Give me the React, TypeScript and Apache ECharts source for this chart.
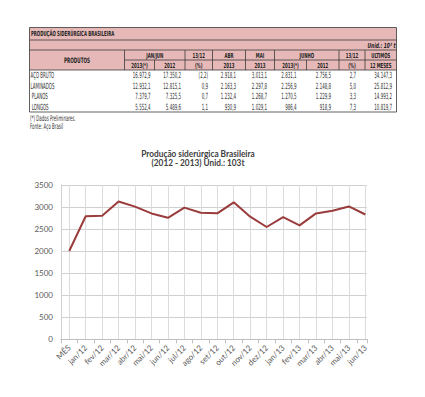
import React, { useEffect, useRef } from "react";
import * as echarts from "echarts";

// ---- chart data ----
const months = ["MÊS", "jan/12", "fev/12", "mar/12", "abr/12", "mai/12", "jun/12", "jul/12", "ago/12", "set/12", "out/12", "nov/12", "dez/12", "jan/13", "fev/13", "mar/13", "abr/13", "mai/13", "jun/13"];
const production = [2003, 2790, 2800, 3125, 3010, 2855, 2756, 2986, 2872, 2858, 3107, 2781, 2547, 2770, 2585, 2856, 2918, 3013, 2831];
const yMin = 0;
const yMax = 3500;
const yStep = 500;
const chartTitle = ["Produção siderúrgica Brasileira", "(2012 - 2013) Unid.: 103t"];

// ---- table data ----
const tableTitle = "PRODUÇÃO SIDERÚRGICA BRASILEIRA";
const tableUnit = "Unid.: 10³ t";
const products = ["AÇO BRUTO", "LAMINADOS", " PLANOS", " LONGOS"];
const janJun2013 = [16972.9, 12932.1, 7379.7, 5552.4];
const janJun2012 = [17350.2, 12815.1, 7325.5, 5489.6];
const varJanJun = [-2.2, 0.9, 0.7, 1.1];
const abr2013 = [2918.1, 2163.3, 1232.4, 930.9];
const mai2013 = [3013.1, 2297.8, 1268.7, 1029.1];
const jun2013 = [2831.1, 2256.9, 1270.5, 986.4];
const jun2012 = [2756.5, 2148.8, 1229.9, 918.9];
const varJun = [2.7, 5.0, 3.3, 7.3];
const last12Months = [34147.3, 25812.9, 14993.2, 10819.7];
const headerTop = ["JAN/JUN", "13/12", "ABR", "MAI", "JUNHO", "13/12", "ULTIMOS"];
const headerBottom = ["2013(*)", "2012", "(%)", "2013", "2013", "2013(*)", "2012", "(%)", "12 MESES"];
const headerProducts = "PRODUTOS";
const notes = ["(*) Dados Preliminares.", "Fonte: Aço Brasil"];

function fmt(v: number): string {
  const neg = v < 0;
  const [i, d] = Math.abs(v).toFixed(1).split(".");
  const s = i.replace(/\B(?=(\d{3})+(?!\d))/g, ".") + "," + d;
  return neg ? "(" + s + ")" : s;
}

const PINK = "#e6b9b8";
const BORDER = "#3a3a3a";
const COND = "'DejaVu Sans Condensed', 'Liberation Sans', sans-serif";
const CALI = "Lato, 'Open Sans', sans-serif";

function txt(x: number, y: number, text: string, o: any = {}) {
  return {
    type: "text",
    x,
    y,
    scaleX: o.sx ?? 1,
    silent: true,
    style: {
      text,
      fontSize: o.size ?? 8,
      fontFamily: o.family ?? COND,
      fontWeight: o.bold ? "bold" : "normal",
      fontStyle: o.italic ? "italic" : "normal",
      fill: o.color ?? "#222",
      align: o.align ?? "left",
      verticalAlign: "middle",
    },
  };
}

function hl(x1: number, x2: number, y: number) {
  return { type: "line", silent: true, shape: { x1, y1: y, x2, y2: y }, style: { stroke: BORDER, lineWidth: 0.8 } };
}
function vl(x: number, y1: number, y2: number) {
  return { type: "line", silent: true, shape: { x1: x, y1, x2: x, y2 }, style: { stroke: BORDER, lineWidth: 0.8 } };
}

function buildTable() {
  const L = 29.5, R = 396.5, T = 27.5;
  const rTitle = 40, rUnit = 50, rH1 = 60, rH2 = 70, B = 112;
  const cols = [124.5, 185, 212.5, 245.5, 274.5, 339, 365];
  const sub = [124.5, 154.5, 185, 212.5, 245.5, 274.5, 306.5, 339, 365, 396.5];
  const els: any[] = [];
  els.push({ type: "rect", silent: true, shape: { x: L, y: T, width: R - L, height: rH2 - T }, style: { fill: PINK } });
  els.push({ type: "rect", silent: true, shape: { x: L, y: rH2, width: R - L, height: B - rH2 }, style: { fill: "#fff" } });
  els.push(hl(L, R, T), hl(L, R, rTitle), hl(L, R, rUnit), hl(cols[0], R, rH1), hl(L, R, rH2), hl(L, R, B));
  els.push(vl(L, T, B), vl(R, T, B));
  cols.forEach((c) => els.push(vl(c, rUnit, rH2)));
  els.push(vl(sub[1], rH1, rH2), vl(sub[6], rH1, rH2));
  els.push(txt(L + 1.5, (T + rTitle) / 2, tableTitle, { bold: true, size: 7, sx: 0.62 }));
  els.push(txt(R - 1, (rTitle + rUnit) / 2 + 0.5, tableUnit, { bold: true, italic: true, size: 7, sx: 0.7, align: "right" }));
  els.push(txt((L + cols[0]) / 2, rH1, headerProducts, { bold: true, size: 7.5, sx: 0.62, align: "center" }));
  const groupEdges = [cols[0], cols[1], cols[2], cols[3], cols[4], cols[5], cols[6], R];
  headerTop.forEach((h, i) => {
    els.push(txt((groupEdges[i] + groupEdges[i + 1]) / 2, (rUnit + rH1) / 2 + 0.5, h, { bold: true, size: 7, sx: 0.62, align: "center" }));
  });
  headerBottom.forEach((h, i) => {
    els.push(txt((sub[i] + sub[i + 1]) / 2, (rH1 + rH2) / 2 + 0.5, h, { bold: true, size: 7, sx: 0.62, align: "center" }));
  });
  const colsData = [janJun2013, janJun2012, varJanJun, abr2013, mai2013, jun2013, jun2012, varJun, last12Months];
  const rightEdges = [150.5, 181, 208, 236, 267, 296.5, 331, 356, 392];
  const rowH = (B - rH2) / products.length;
  products.forEach((p, r) => {
    const y = rH2 + rowH * (r + 0.5) + 0.3;
    els.push(txt(L + 1, y, p, { size: 8.5, sx: 0.52, color: "#333" }));
    colsData.forEach((arr, c) => {
      els.push(txt(rightEdges[c], y, fmt(arr[r]), { size: 8.5, sx: 0.52, color: "#333", align: "right" }));
    });
  });
  notes.forEach((n, i) => {
    els.push(txt(L + 0.5, 118.5 + i * 8.5, n, { size: 8, sx: 0.55, color: "#333" }));
  });
  return els;
}

export default function App() {
  const ref = useRef<HTMLDivElement>(null);
  useEffect(() => {
    document.body.style.margin = "0";
    const chart = echarts.init(ref.current!, undefined, { renderer: "svg" });
    const gridLeft = 61;
    const gridTop = 185;
    const gridW = 306;
    const gridH = 154.3;
    const n = months.length;
    const span = n - 0.4;
    const s = gridW / span;
    const option: any = {
      animation: false,
      backgroundColor: "#fff",
      grid: [
        { left: gridLeft, top: gridTop, width: gridW, height: gridH },
        { left: gridLeft + s / 2, top: gridTop, width: s * (n - 1), height: gridH },
      ],
      xAxis: [
        {
          gridIndex: 0,
          type: "value",
          min: 0,
          max: span,
          interval: 1,
          axisLine: { show: true, lineStyle: { color: "#bfbfbf", width: 1 } },
          axisTick: { show: true, length: 4, lineStyle: { color: "#bfbfbf" } },
          axisLabel: { show: false },
          splitLine: { show: false },
        },
        {
          gridIndex: 1,
          type: "value",
          min: 0,
          max: n - 1,
          interval: 1,
          axisLine: { show: false },
          axisTick: { show: false },
          splitLine: { show: true, lineStyle: { color: "#dcdcdc", width: 1 } },
          axisLabel: {
            show: true,
            rotate: 45,
            margin: 7,
            fontSize: 8,
            fontFamily: CALI,
            color: "#595959",
            formatter: (v: number) => months[Math.round(v)] ?? "",
          },
        },
      ],
      yAxis: [
        {
          gridIndex: 0,
          type: "value",
          min: yMin,
          max: yMax,
          interval: yStep,
          axisLine: { show: true, lineStyle: { color: "#d0d0d0" } },
          axisTick: { show: false },
          axisLabel: { fontSize: 8, fontFamily: CALI, color: "#595959", margin: 8, formatter: (v: number) => String(v) },
          splitLine: { show: true, lineStyle: { color: "#d0d0d0", width: 1 } },
        },
        { gridIndex: 1, type: "value", min: yMin, max: yMax, interval: yStep, show: false },
      ],
      series: [
        {
          type: "line",
          xAxisIndex: 1,
          yAxisIndex: 1,
          data: production.map((v, i) => [i, v]),
          symbol: "none",
          lineStyle: { color: "#9a3b3c", width: 2 },
          z: 5,
        },
      ],
      graphic: [
        ...buildTable(),
        txt(198, 153.5, chartTitle[0], { bold: true, size: 9, family: CALI, color: "#404040", align: "center", sx: 0.92 }),
        txt(198, 162.5, chartTitle[1], { bold: true, size: 9, family: CALI, color: "#404040", align: "center", sx: 0.92 }),
      ],
    };
    chart.setOption(option);
    return () => chart.dispose();
  }, []);
  return <div ref={ref} style={{ width: 425, height: 397 }} />;
}
